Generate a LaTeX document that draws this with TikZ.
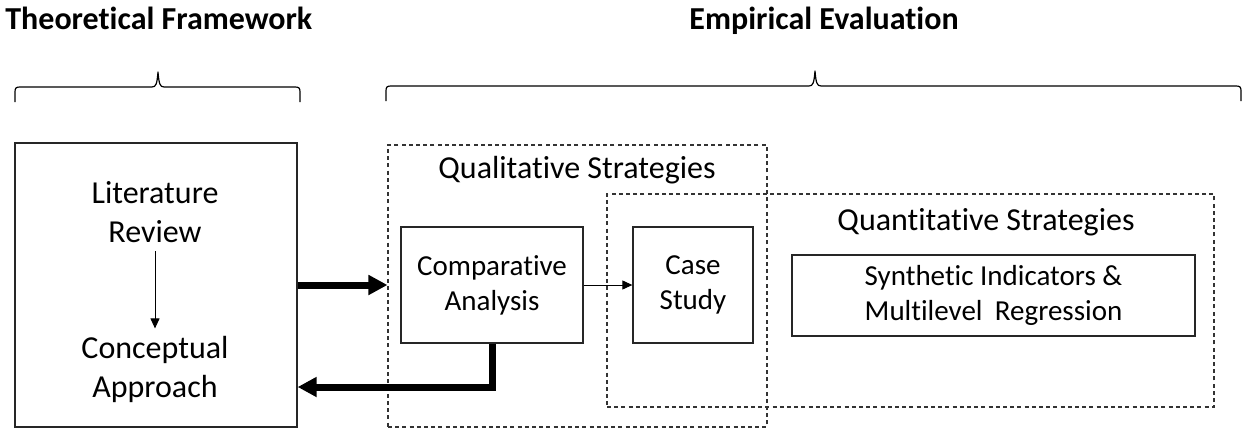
\documentclass[tikz,border=0pt]{standalone}
\usepackage{fontspec}
\setmainfont{Carlito}[Ligatures={NoCommon,NoRequired,NoContextual}, RawFeature={-liga;-clig;-dlig}]
\usetikzlibrary{arrows.meta,calc}

\tikzset{
  solidbox/.style={draw=black!85, line width=0.65pt, inner sep=0pt},
  dashbox/.style={draw=black!80, line width=0.55pt, dash pattern=on 2pt off 1.6pt, inner sep=0pt},
  bigtext/.style={font=\fontsize{16}{19.5}\selectfont, align=center, inner sep=0pt},
  smalltext/.style={font=\fontsize{14.5}{17.5}\selectfont, align=center},
  headtext/.style={font=\fontsize{16}{19.5}\selectfont\bfseries, inner sep=0pt},
  thinarrow/.style={line width=0.5pt, -{Triangle[length=5pt,width=4.5pt]}},
  thickarrow/.style={line width=3.5pt, -{Triangle[length=9.5pt,width=9.5pt]}},
  bracepath/.style={line width=0.6pt, line join=round}
}

\begin{document}
\begin{tikzpicture}[x=0.5pt,y=-0.5pt]
  \useasboundingbox (0,0) rectangle (1246,428);

  % section headings
  \node[headtext, anchor=base west] (theohead) at (5,29) {Theoretical Framework};
  \node[headtext, anchor=base] (empihead) at (824,29) {Empirical Evaluation};

  % curly braces under the headings
  \draw[bracepath] (15,102) -- (15,92) .. controls (15,88) and (16,87) .. (20,87)
    -- (152,87) .. controls (156,87) and (157,84) .. (158,72)
    .. controls (159,84) and (160,87) .. (164,87)
    -- (295,87) .. controls (299,87) and (300,88) .. (300,92) -- (300,102);
  \draw[bracepath] (386,101) -- (386,91) .. controls (386,87) and (387,86) .. (391,86)
    -- (809,86) .. controls (813,86) and (814,83) .. (815,71)
    .. controls (816,83) and (817,86) .. (821,86)
    -- (1236,86) .. controls (1240,86) and (1241,87) .. (1241,91) -- (1241,101);

  % theoretical framework block
  \node[solidbox, minimum width=141pt, minimum height=142pt] (theory) at (156,285) {};
  \node[bigtext] (lit) at (155,212) {Literature\\Review};
  \node[bigtext] (concept) at (155,369) {Conceptual\\Approach};
  \draw[thinarrow] ([yshift=-4pt]lit.south) -- ([yshift=3.5pt]concept.north);

  % strategy groups
  \node[dashbox, minimum width=189.5pt, minimum height=141pt] (qual) at (577.5,286) {};
  \node[dashbox, minimum width=303.5pt, minimum height=106.5pt] (quant) at (910.5,300.5) {};
  \node[bigtext] (quallabel) at (577,170) {Qualitative Strategies};
  \node[bigtext] (quantlabel) at (986,222) {Quantitative Strategies};

  % method boxes
  \node[solidbox, smalltext, minimum width=91pt, minimum height=58pt] (comp) at (492,285) {Comparative\\Analysis};
  \node[solidbox, smalltext, minimum width=60pt, minimum height=58pt] (case) at (693,285) {Case\\Study};
  \node[solidbox, smalltext, minimum width=201.5pt, minimum height=40.5pt] (synth) at (993.5,295.5) {Synthetic Indicators \&\\Multilevel\hspace{0.2em} Regression};

  % connectors
  \coordinate (back) at (156,387);
  \draw[thickarrow] (theory.east |- comp.west) -- (qual.west |- comp.west);
  \draw[thickarrow] (comp.south) |- (theory.east |- back);
  \draw[thinarrow] (comp.east) -- (case.west);
\end{tikzpicture}
\end{document}
